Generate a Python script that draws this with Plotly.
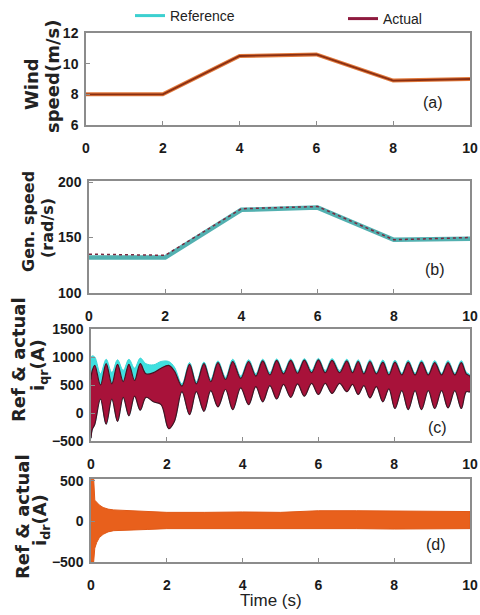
import plotly.graph_objects as go

# panel (a): wind speed (m/s)
wind_t = [0, 2, 4, 6, 8, 10]
wind_ref = [8.0, 8.0, 10.5, 10.6, 8.9, 9.0]
wind_act = [8.0, 8.0, 10.5, 10.6, 8.9, 9.0]

# panel (b): generator speed (rad/s)
gen_t = [0, 2, 4, 6, 8, 10]
gen_ref = [132, 132, 175, 177, 148, 149]
gen_act = [135, 134, 176, 178, 148, 150]

# panel (c): i_qr envelope (bulb centres and necks)
iqr_t = [0.00, 0.03, 0.10, 0.25, 0.40, 0.55, 0.70, 0.85, 1.00, 1.15, 1.30, 1.45,
         1.65, 1.85, 2.05, 2.20, 2.40, 2.60, 2.78, 2.98, 3.16, 3.35, 3.55, 3.74,
         3.95, 4.16, 4.35, 4.53, 4.72, 4.90, 5.08, 5.27, 5.45, 5.63, 5.82, 6.00,
         6.18, 6.36, 6.56, 6.75, 6.90, 7.05, 7.20, 7.36, 7.53, 7.70, 7.86, 8.02,
         8.20, 8.37, 8.55, 8.72, 8.90, 9.07, 9.25, 9.42, 9.60, 9.77, 9.90, 10.0]
iqr_act_hi = [600, 750, 850, 500, 880, 520, 870, 560, 870, 580, 880, 700,
              720, 800, 850, 750, 480, 870, 520, 880, 560, 900, 600, 920,
              620, 920, 660, 930, 680, 940, 700, 940, 710, 945, 720, 950,
              720, 940, 720, 930, 720, 920, 700, 920, 700, 910, 680, 910,
              680, 910, 680, 910, 680, 900, 680, 900, 680, 900, 700, 650]
iqr_act_lo = [-450, -300, -200, 250, -200, 250, -150, 280, -50, 300, 50, 280,
              200, 150, -280, -150, 380, -30, 380, 30, 400, 110, 420, 60,
              450, 150, 470, 200, 490, 250, 510, 280, 520, 300, 530, 330,
              530, 350, 530, 380, 510, 330, 490, 270, 470, 200, 430, 80,
              400, 60, 400, 60, 400, 80, 400, 90, 400, 80, 380, 380]
iqr_ref_hi = [1000, 1020, 1000, 700, 960, 720, 950, 760, 960, 800, 980, 880,
              860, 920, 920, 820, 520, 900, 560, 910, 600, 930, 640, 960,
              660, 950, 700, 960, 720, 965, 740, 965, 750, 970, 760, 975,
              760, 970, 760, 960, 750, 950, 730, 950, 730, 945, 720, 940,
              710, 940, 710, 940, 710, 935, 710, 935, 710, 935, 730, 680]

# panel (d): i_dr envelope
idr_t = [0.00, 0.07, 0.10, 0.15, 0.22, 0.32, 0.45, 0.60, 0.80, 1.0, 1.5, 2.0, 3.0,
         4.0, 5.0, 6.0, 7.0, 8.0, 9.0, 10.0]
idr_hi = [530, 530, 260, 230, 200, 170, 150, 140, 135, 130, 120, 110, 110,
          115, 110, 130, 130, 125, 120, 120]
idr_lo = [-500, -500, -330, -260, -200, -160, -130, -115, -110, -105, -100, -90, -90,
          -90, -90, -90, -90, -95, -95, -90]

W, H = 480, 615
sans = "Liberation Sans, Arial"
wide = "DejaVu Sans"

fig = go.Figure()

# (a)
fig.add_trace(go.Scatter(x=wind_t, y=wind_ref, mode="lines", line=dict(color="#e27a3c", width=4),
                         xaxis="x", yaxis="y", showlegend=False))
fig.add_trace(go.Scatter(x=wind_t, y=wind_act, mode="lines", line=dict(color="#8a2e12", width=1.8),
                         xaxis="x", yaxis="y", showlegend=False))

# (b)
fig.add_trace(go.Scatter(x=gen_t, y=gen_ref, mode="lines", line=dict(color="#52b0b0", width=4.5),
                         xaxis="x2", yaxis="y2", showlegend=False))
fig.add_trace(go.Scatter(x=gen_t, y=gen_act, mode="lines", line=dict(color="#7a2a40", width=1.5, dash="dot"),
                         xaxis="x2", yaxis="y2", showlegend=False))

# (c)
fig.add_trace(go.Scatter(x=iqr_t + iqr_t[::-1], y=iqr_ref_hi + iqr_act_lo[::-1], mode="lines",
                         fill="toself", fillcolor="#3fe0e0", line=dict(color="#3fd8d8", width=1, shape="spline"),
                         xaxis="x3", yaxis="y3", showlegend=False))
fig.add_trace(go.Scatter(x=iqr_t + iqr_t[::-1], y=iqr_act_hi + iqr_act_lo[::-1], mode="lines",
                         fill="toself", fillcolor="#a8123a", line=dict(color="#4a1020", width=1.2, shape="spline"),
                         xaxis="x3", yaxis="y3", showlegend=False))

# (d)
fig.add_trace(go.Scatter(x=idr_t + idr_t[::-1], y=idr_hi + idr_lo[::-1], mode="lines",
                         fill="toself", fillcolor="#e8601c", line=dict(color="#e05a18", width=1),
                         xaxis="x4", yaxis="y4", showlegend=False))

# legend entries
fig.add_trace(go.Scatter(x=[None], y=[None], mode="lines", name="Reference", legend="legend",
                         line=dict(color="#3cd0d0", width=3), xaxis="x", yaxis="y"))
fig.add_trace(go.Scatter(x=[None], y=[None], mode="lines", name="Actual", legend="legend2",
                         line=dict(color="#8e1a3e", width=3), xaxis="x", yaxis="y"))

boxes = {  # left, right, top, bottom in pixels
    "": (86, 470, 33, 125),
    "2": (89, 470, 181, 293),
    "3": (91, 470, 329, 441),
    "4": (91, 470, 479, 562),
}
yranges = {"": [6, 12], "2": [100, 201], "3": [-500, 1500], "4": [-500, 520]}
yticks = {"": [6, 8, 10, 12], "2": [100, 150, 200], "3": [-500, 0, 500, 1000, 1500], "4": [-500, 0, 500]}

axis_common = dict(showline=True, mirror=True, linecolor="#8c8c8c", linewidth=1.5,
                   ticks="inside", ticklen=4, tickcolor="#8c8c8c", showgrid=False, zeroline=False,
                   tickfont=dict(family=sans, size=14, color="#1a1a1a", weight="bold"))

for k, (l, r, t, b) in boxes.items():
    fig.update_layout(**{
        "xaxis" + k: dict(domain=[l / W, r / W], range=[0, 10], tickvals=[0, 2, 4, 6, 8, 10],
                          anchor="y" + k, ticklabelstandoff=9, **axis_common),
        "yaxis" + k: dict(domain=[1 - b / H, 1 - t / H], range=yranges[k], tickvals=yticks[k],
                          anchor="x" + k, ticklabelstandoff=3, **axis_common),
    })

ann = []
def label(text, x, y, size=18, angle=-90, family=wide, bold=True):
    ann.append(dict(text=f"<b>{text}</b>" if bold else text, x=x / W, y=1 - y / H, xref="paper", yref="paper",
                    showarrow=False, textangle=angle, xanchor="center", yanchor="middle",
                    font=dict(family=family, size=size, color="#222222")))

label("Wind", 31, 84, size=18)
label("speed(m/s)", 52, 77, size=18)
label("Gen. speed", 28, 222, size=16)
label("(rad/s)", 47, 228, size=16)
label("Ref & actual", 18, 360)
label("i<sub>qr</sub>(A)", 39, 365)
label("Ref & actual", 22, 517)
label("i<sub>dr</sub>(A)", 41, 520)

for txt, x, y in [("(a)", 433, 102), ("(b)", 435, 270), ("(c)", 437, 427), ("(d)", 436, 544)]:
    label(txt, x, y, size=16, angle=0, family=sans, bold=False)
label("Time (s)", 271, 600, size=17, angle=0, family=sans, bold=False)

leg_font = dict(family=sans, size=14, color="#222222")
fig.update_layout(
    width=W, height=H, margin=dict(l=0, r=0, t=0, b=0, autoexpand=False),
    paper_bgcolor="white", plot_bgcolor="white",
    annotations=ann,
    legend=dict(x=130 / W, y=1.0, xanchor="left", yanchor="top", font=leg_font,
                bgcolor="rgba(0,0,0,0)"),
    legend2=dict(x=343 / W, y=1 - 3 / H, xanchor="left", yanchor="top", font=leg_font,
                 bgcolor="rgba(0,0,0,0)"),
    hovermode=False,
)

# page body has a default 8px margin; drop it so the figure sits at the window corner
fig.write_html("out.html", config={"displayModeBar": False},
               post_script="document.body.style.margin='0px';")
